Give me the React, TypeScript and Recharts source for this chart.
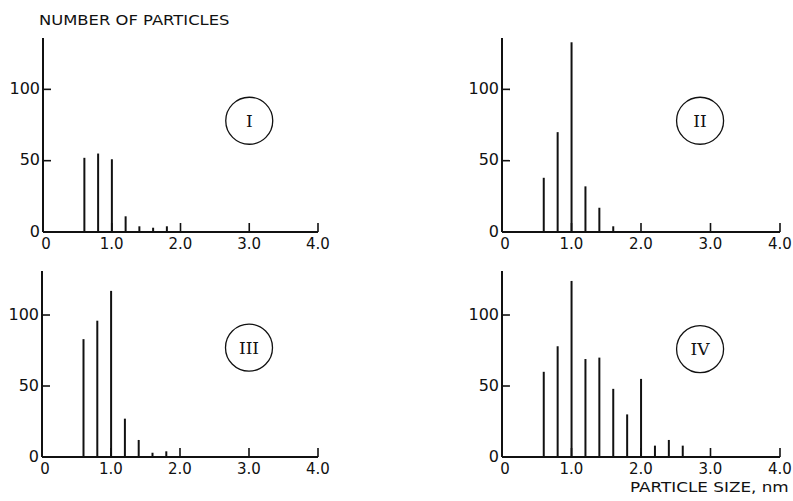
import { BarChart, Bar, XAxis, YAxis, ReferenceDot } from 'recharts';

// particle size (nm) and counts
const sizesI = [0.6, 0.8, 1.0, 1.2, 1.4, 1.6, 1.8];
const countsI = [52, 55, 51, 11, 4, 3, 4];

const sizesII = [0.6, 0.8, 1.0, 1.2, 1.4, 1.6];
const countsII = [38, 70, 133, 32, 17, 4];

const sizesIII = [0.6, 0.8, 1.0, 1.2, 1.4, 1.6, 1.8];
const countsIII = [83, 96, 117, 27, 12, 3, 4];

const sizesIV = [0.6, 0.8, 1.0, 1.2, 1.4, 1.6, 1.8, 2.0, 2.2, 2.4, 2.6];
const countsIV = [60, 78, 124, 69, 70, 48, 30, 55, 8, 12, 8];

const xTicks = [0, 1, 2, 3, 4];
const xTickLabels = ['0', '1.0', '2.0', '3.0', '4.0'];
const yTicks = [0, 50, 100];

const FONT = '"DejaVu Sans", Arial, sans-serif';
const INK = '#111';

const toRows = (sizes: number[], counts: number[]) =>
  sizes.map((s, i) => ({ size: s, count: counts[i] }));

const XTick = (props: any) => {
  const { x, y, payload } = props;
  const idx = xTicks.indexOf(payload.value);
  return (
    <g>
      {payload.value > 0 && <line x1={x} x2={x} y1={y} y2={y - 9} stroke={INK} strokeWidth={1.6} />}
      <text x={payload.value === 0 ? x + 3 : x} y={y + 12} dy="0.35em" textAnchor="middle" fontSize={15} fontFamily={FONT} fill={INK}>
        {xTickLabels[idx]}
      </text>
    </g>
  );
};

const YTick = (props: any) => {
  const { x, y, payload } = props;
  return (
    <g>
      {payload.value > 0 && <line x1={x} x2={x + 8} y1={y} y2={y} stroke={INK} strokeWidth={1.6} />}
      <text x={x - 3} y={y} dy="0.3em" textAnchor="end" fontSize={16} fontFamily={FONT} fill={INK}>
        {payload.value}
      </text>
    </g>
  );
};

interface PanelProps {
  data: { size: number; count: number }[];
  label: string;
  left: number;
  top: number;
  width: number;
  height: number;
  yWidth: number;
  marginTop: number;
  marginRight: number;
  yMax: number;
  circleX: number;
  circleY: number;
}

function Panel(p: PanelProps) {
  return (
    <div style={{ position: 'absolute', left: p.left, top: p.top }}>
      <BarChart
        width={p.width}
        height={p.height}
        data={p.data}
        margin={{ top: p.marginTop, right: p.marginRight, left: 0, bottom: 0 }}
      >
        <XAxis
          type="number"
          dataKey="size"
          domain={[0, 4]}
          ticks={xTicks}
          height={30}
          tickSize={0}
          tickMargin={0}
          tickLine={false}
          axisLine={{ stroke: INK, strokeWidth: 2 }}
          tick={<XTick />}
          interval={0}
        />
        <YAxis
          type="number"
          domain={[0, p.yMax]}
          ticks={yTicks}
          width={p.yWidth}
          tickSize={0}
          tickMargin={0}
          tickLine={false}
          axisLine={{ stroke: INK, strokeWidth: 2 }}
          tick={<YTick />}
          interval={0}
        />
        <Bar dataKey="count" fill={INK} barSize={2} isAnimationActive={false} />
        <ReferenceDot
          x={p.circleX}
          y={p.circleY}
          r={23.5}
          fill="none"
          stroke={INK}
          strokeWidth={1.3}
          label={{ value: p.label, position: 'center', fill: INK, fontSize: 17, fontFamily: '"DejaVu Serif", "Liberation Serif", serif' }}
        />
      </BarChart>
    </div>
  );
}

export default function App() {
  return (
    <div style={{ position: 'absolute', left: 0, top: 0, width: 793, height: 501, background: '#fff', overflow: 'hidden' }}>
      <div style={{ position: 'absolute', left: 39, top: 12, fontSize: 14, fontFamily: FONT, color: INK, whiteSpace: 'nowrap', transform: 'scaleX(1.17)', transformOrigin: 'left top' }}>
        NUMBER OF PARTICLES
      </div>
      <Panel data={toRows(sizesI, countsI)} label="I" left={0} top={0} width={340} height={262} yWidth={43} marginTop={38} marginRight={22} yMax={136} circleX={3.0} circleY={78} />
      <Panel data={toRows(sizesII, countsII)} label="II" left={440} top={0} width={353} height={262} yWidth={62} marginTop={38} marginRight={13} yMax={136} circleX={2.85} circleY={78} />
      <Panel data={toRows(sizesIII, countsIII)} label="III" left={0} top={250} width={340} height={237} yWidth={42} marginTop={21} marginRight={22} yMax={131} circleX={3.0} circleY={77} />
      <Panel data={toRows(sizesIV, countsIV)} label="IV" left={440} top={250} width={353} height={237} yWidth={62} marginTop={21} marginRight={13} yMax={131} circleX={2.85} circleY={76} />
      <div style={{ position: 'absolute', left: 630, top: 480, fontSize: 14, lineHeight: 1, fontFamily: FONT, color: INK, whiteSpace: 'nowrap', transform: 'scaleX(1.2)', transformOrigin: 'left top' }}>
        PARTICLE SIZE, nm
      </div>
    </div>
  );
}
